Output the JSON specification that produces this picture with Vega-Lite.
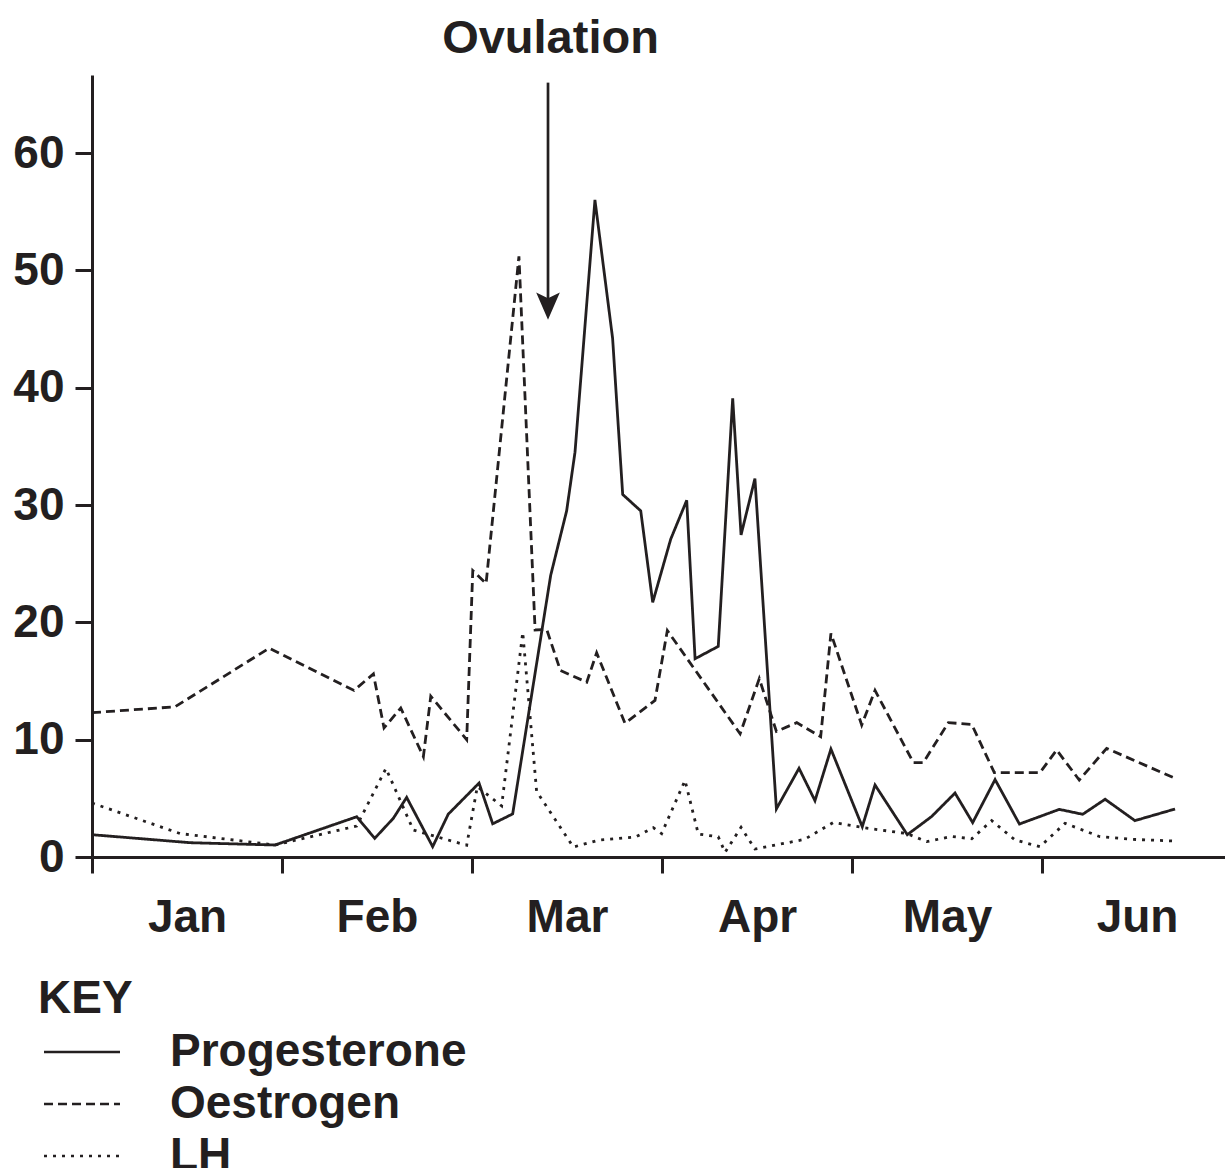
{
  "$schema": "https://vega.github.io/schema/vega-lite/v6.json",
  "width": 1133,
  "height": 782,
  "autosize": {"type": "none"},
  "padding": {"left": 92, "top": 75, "right": 0, "bottom": 311},
  "background": "white",
  "title": {
    "text": "Ovulation",
    "anchor": "middle",
    "dx": -108,
    "offset": 12,
    "fontSize": 47,
    "font": "Liberation Sans",
    "fontWeight": "bold",
    "color": "#231f20"
  },
  "data": {
    "values": [
      {"hormone": "Progesterone", "month": 0.0, "level": 1.9},
      {"hormone": "Progesterone", "month": 0.516, "level": 1.22},
      {"hormone": "Progesterone", "month": 0.963, "level": 1.02},
      {"hormone": "Progesterone", "month": 1.393, "level": 3.43},
      {"hormone": "Progesterone", "month": 1.488, "level": 1.59},
      {"hormone": "Progesterone", "month": 1.586, "level": 3.3},
      {"hormone": "Progesterone", "month": 1.656, "level": 5.08},
      {"hormone": "Progesterone", "month": 1.793, "level": 0.88},
      {"hormone": "Progesterone", "month": 1.875, "level": 3.65},
      {"hormone": "Progesterone", "month": 2.037, "level": 6.3},
      {"hormone": "Progesterone", "month": 2.109, "level": 2.83},
      {"hormone": "Progesterone", "month": 2.214, "level": 3.67},
      {"hormone": "Progesterone", "month": 2.414, "level": 24.0},
      {"hormone": "Progesterone", "month": 2.498, "level": 29.5},
      {"hormone": "Progesterone", "month": 2.542, "level": 34.5},
      {"hormone": "Progesterone", "month": 2.647, "level": 56.0},
      {"hormone": "Progesterone", "month": 2.74, "level": 44.2},
      {"hormone": "Progesterone", "month": 2.793, "level": 30.9},
      {"hormone": "Progesterone", "month": 2.888, "level": 29.5},
      {"hormone": "Progesterone", "month": 2.951, "level": 21.7},
      {"hormone": "Progesterone", "month": 3.046, "level": 27.1},
      {"hormone": "Progesterone", "month": 3.13, "level": 30.4},
      {"hormone": "Progesterone", "month": 3.174, "level": 16.9},
      {"hormone": "Progesterone", "month": 3.296, "level": 17.95},
      {"hormone": "Progesterone", "month": 3.372, "level": 39.1},
      {"hormone": "Progesterone", "month": 3.416, "level": 27.45},
      {"hormone": "Progesterone", "month": 3.489, "level": 32.25},
      {"hormone": "Progesterone", "month": 3.602, "level": 4.1},
      {"hormone": "Progesterone", "month": 3.721, "level": 7.56},
      {"hormone": "Progesterone", "month": 3.805, "level": 4.8},
      {"hormone": "Progesterone", "month": 3.889, "level": 9.2},
      {"hormone": "Progesterone", "month": 4.054, "level": 2.58},
      {"hormone": "Progesterone", "month": 4.121, "level": 6.14},
      {"hormone": "Progesterone", "month": 4.291, "level": 1.9},
      {"hormone": "Progesterone", "month": 4.419, "level": 3.45},
      {"hormone": "Progesterone", "month": 4.542, "level": 5.45},
      {"hormone": "Progesterone", "month": 4.635, "level": 2.93},
      {"hormone": "Progesterone", "month": 4.753, "level": 6.6},
      {"hormone": "Progesterone", "month": 4.881, "level": 2.81},
      {"hormone": "Progesterone", "month": 5.091, "level": 4.06},
      {"hormone": "Progesterone", "month": 5.214, "level": 3.64},
      {"hormone": "Progesterone", "month": 5.332, "level": 4.92},
      {"hormone": "Progesterone", "month": 5.489, "level": 3.1},
      {"hormone": "Progesterone", "month": 5.7, "level": 4.09},

      {"hormone": "Oestrogen", "month": 0.0, "level": 12.3},
      {"hormone": "Oestrogen", "month": 0.437, "level": 12.8},
      {"hormone": "Oestrogen", "month": 0.933, "level": 17.8},
      {"hormone": "Oestrogen", "month": 1.379, "level": 14.2},
      {"hormone": "Oestrogen", "month": 1.481, "level": 15.6},
      {"hormone": "Oestrogen", "month": 1.537, "level": 11.0},
      {"hormone": "Oestrogen", "month": 1.625, "level": 12.7},
      {"hormone": "Oestrogen", "month": 1.744, "level": 8.55},
      {"hormone": "Oestrogen", "month": 1.783, "level": 13.7},
      {"hormone": "Oestrogen", "month": 1.972, "level": 10.0},
      {"hormone": "Oestrogen", "month": 2.004, "level": 24.4},
      {"hormone": "Oestrogen", "month": 2.074, "level": 23.3},
      {"hormone": "Oestrogen", "month": 2.247, "level": 51.2},
      {"hormone": "Oestrogen", "month": 2.332, "level": 19.35},
      {"hormone": "Oestrogen", "month": 2.393, "level": 19.4},
      {"hormone": "Oestrogen", "month": 2.465, "level": 15.9},
      {"hormone": "Oestrogen", "month": 2.604, "level": 14.9},
      {"hormone": "Oestrogen", "month": 2.656, "level": 17.4},
      {"hormone": "Oestrogen", "month": 2.805, "level": 11.4},
      {"hormone": "Oestrogen", "month": 2.963, "level": 13.35},
      {"hormone": "Oestrogen", "month": 3.028, "level": 19.3},
      {"hormone": "Oestrogen", "month": 3.411, "level": 10.5},
      {"hormone": "Oestrogen", "month": 3.512, "level": 15.2},
      {"hormone": "Oestrogen", "month": 3.602, "level": 10.7},
      {"hormone": "Oestrogen", "month": 3.709, "level": 11.45},
      {"hormone": "Oestrogen", "month": 3.835, "level": 10.25},
      {"hormone": "Oestrogen", "month": 3.889, "level": 19.06},
      {"hormone": "Oestrogen", "month": 4.051, "level": 11.25},
      {"hormone": "Oestrogen", "month": 4.121, "level": 14.2},
      {"hormone": "Oestrogen", "month": 4.323, "level": 8.04},
      {"hormone": "Oestrogen", "month": 4.375, "level": 8.04},
      {"hormone": "Oestrogen", "month": 4.507, "level": 11.45},
      {"hormone": "Oestrogen", "month": 4.63, "level": 11.3},
      {"hormone": "Oestrogen", "month": 4.749, "level": 7.19},
      {"hormone": "Oestrogen", "month": 4.989, "level": 7.19},
      {"hormone": "Oestrogen", "month": 5.077, "level": 9.12},
      {"hormone": "Oestrogen", "month": 5.196, "level": 6.56},
      {"hormone": "Oestrogen", "month": 5.34, "level": 9.26},
      {"hormone": "Oestrogen", "month": 5.688, "level": 6.79},

      {"hormone": "LH", "month": 0.0, "level": 4.6},
      {"hormone": "LH", "month": 0.463, "level": 2.0},
      {"hormone": "LH", "month": 0.963, "level": 1.02},
      {"hormone": "LH", "month": 1.393, "level": 2.64},
      {"hormone": "LH", "month": 1.547, "level": 7.55},
      {"hormone": "LH", "month": 1.691, "level": 2.3},
      {"hormone": "LH", "month": 1.972, "level": 1.0},
      {"hormone": "LH", "month": 2.028, "level": 6.0},
      {"hormone": "LH", "month": 2.156, "level": 4.35},
      {"hormone": "LH", "month": 2.267, "level": 19.15},
      {"hormone": "LH", "month": 2.34, "level": 5.6},
      {"hormone": "LH", "month": 2.533, "level": 0.85},
      {"hormone": "LH", "month": 2.67, "level": 1.45},
      {"hormone": "LH", "month": 2.86, "level": 1.7},
      {"hormone": "LH", "month": 2.954, "level": 2.5},
      {"hormone": "LH", "month": 2.998, "level": 2.0},
      {"hormone": "LH", "month": 3.121, "level": 6.53},
      {"hormone": "LH", "month": 3.191, "level": 1.96},
      {"hormone": "LH", "month": 3.296, "level": 1.72},
      {"hormone": "LH", "month": 3.332, "level": 0.4},
      {"hormone": "LH", "month": 3.416, "level": 2.53},
      {"hormone": "LH", "month": 3.489, "level": 0.68},
      {"hormone": "LH", "month": 3.75, "level": 1.5},
      {"hormone": "LH", "month": 3.902, "level": 2.95},
      {"hormone": "LH", "month": 4.06, "level": 2.5},
      {"hormone": "LH", "month": 4.288, "level": 2.0},
      {"hormone": "LH", "month": 4.393, "level": 1.31},
      {"hormone": "LH", "month": 4.524, "level": 1.75},
      {"hormone": "LH", "month": 4.63, "level": 1.55},
      {"hormone": "LH", "month": 4.735, "level": 3.1},
      {"hormone": "LH", "month": 4.858, "level": 1.45},
      {"hormone": "LH", "month": 4.989, "level": 0.88},
      {"hormone": "LH", "month": 5.121, "level": 2.87},
      {"hormone": "LH", "month": 5.305, "level": 1.73},
      {"hormone": "LH", "month": 5.48, "level": 1.5},
      {"hormone": "LH", "month": 5.7, "level": 1.36}
    ]
  },
  "layer": [
    {
      "mark": {"type": "line", "color": "#231f20", "strokeWidth": 2.8, "strokeCap": "butt", "strokeJoin": "miter", "clip": false},
      "encoding": {
        "x": {
          "field": "month",
          "type": "quantitative",
          "scale": {"domain": [0, 5.963], "nice": false, "zero": false},
          "axis": {
            "values": [0, 1, 2, 3, 4, 5],
            "labelExpr": "['Jan','Feb','Mar','Apr','May','Jun'][datum.value]",
            "labelOffset": 95,
            "labelAlign": "center",
            "tickSize": 16,
            "labelPadding": 22,
            "title": null
          }
        },
        "y": {
          "field": "level",
          "type": "quantitative",
          "scale": {"domain": [0, 66.65], "nice": false},
          "axis": {
            "values": [0, 10, 20, 30, 40, 50, 60],
            "tickSize": 17,
            "labelPadding": 11,
            "title": null
          }
        },
        "strokeDash": {
          "field": "hormone",
          "type": "nominal",
          "scale": {
            "domain": ["Progesterone", "Oestrogen", "LH"],
            "range": [[1, 0], [9, 5], [3, 6]]
          },
          "legend": {
            "title": "KEY",
            "orient": "none",
            "legendX": -54,
            "legendY": 902,
            "symbolType": "M-4,0L4,0",
            "symbolSize": 361,
            "symbolStrokeWidth": 2.5,
            "symbolStrokeColor": "#231f20",
            "symbolFillColor": "transparent",
            "symbolOffset": 21,
            "labelOffset": 65,
            "rowPadding": 6,
            "titlePadding": 6,
            "titleFontSize": 46,
            "titleFont": "Liberation Sans",
            "titleFontWeight": "bold",
            "titleColor": "#231f20",
            "labelFontSize": 46,
            "labelFont": "Liberation Sans",
            "labelFontWeight": "bold",
            "labelColor": "#231f20",
            "labelLimit": 600,
            "padding": 0
          }
        },
        "order": {"field": "month", "type": "quantitative"}
      }
    },
    {
      "data": {"values": [{"month": 2.4, "top": 66.0, "base": 47.4, "tip": 45.8}]},
      "mark": {"type": "rule", "color": "#231f20", "strokeWidth": 2.7},
      "encoding": {
        "x": {"field": "month", "type": "quantitative"},
        "y": {"field": "top", "type": "quantitative"},
        "y2": {"field": "base"}
      }
    },
    {
      "data": {"values": [{"month": 2.4, "top": 66.0, "base": 47.4, "tip": 45.8}]},
      "mark": {
        "type": "point",
        "shape": "M0,0L-1,-2.3L0,-1.8L1,-2.3Z",
        "size": 560,
        "filled": true,
        "color": "#231f20",
        "opacity": 1,
        "strokeWidth": 0
      },
      "encoding": {
        "x": {"field": "month", "type": "quantitative"},
        "y": {"field": "tip", "type": "quantitative"}
      }
    }
  ],
  "config": {
    "font": "Liberation Sans",
    "view": {"stroke": null},
    "axis": {
      "grid": false,
      "domainColor": "#231f20",
      "domainWidth": 3,
      "tickColor": "#231f20",
      "tickWidth": 3,
      "labelFont": "Liberation Sans",
      "labelFontWeight": "bold",
      "labelFontSize": 46,
      "labelColor": "#231f20",
      "labelOverlap": false,
      "labelBound": false,
      "labelFlush": false
    }
  }
}
